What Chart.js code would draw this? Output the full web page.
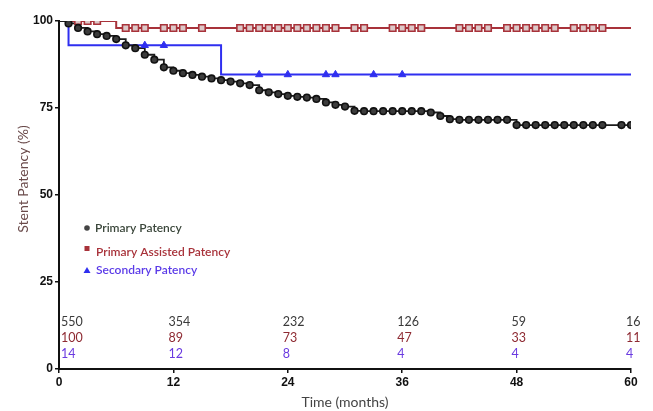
<!DOCTYPE html>
<html>
<head>
<meta charset="utf-8">
<script src="https://cdn.jsdelivr.net/npm/chart.js@4.4.1/dist/chart.umd.min.js"></script>
<style>
body{margin:0;background:#fff;}
</style>
</head>
<body>
<canvas id="km" width="653" height="411"></canvas>
<script>
// Kaplan-Meier curves (months, % patent)
var primaryStepT = [0,1,2,3,4,5,6,7,8,9,10,11,12,13,14,15,16,17,18,19,20,21,22,23,24,25,26,27,28,29,30,31,32,39,40,41,42,48,60];
var primaryStepS = [100,99.3,98.0,97.0,96.2,95.7,94.8,93.0,92.2,90.3,88.9,86.7,85.7,85.0,84.5,84.0,83.5,83.0,82.6,82.1,81.6,80.1,79.5,79.0,78.5,78.2,78.0,77.6,76.6,75.9,75.4,74.2,74.1,73.7,72.7,71.8,71.6,70.1,70.1];
var primaryCensorT = [1,2,3,4,5,6,7,8,9,10,11,12,13,14,15,16,17,18,19,20,21,22,23,24,25,26,27,28,29,30,31,32,33,34,35,36,37,38,39,40,41,42,43,44,45,46,47,48,49,50,51,52,53,54,55,56,57,59,60];

var assistedStepT = [0, 6, 60];
var assistedStepS = [100, 98.0, 98.0];
var assistedCensorT = [2,3,4,7,8,9,11,12,13,15,19,20,21,22,23,24,25,26,27,28,29,31,32,35,36,37,38,42,43,44,45,47,48,49,50,51,52,54,55,56,57];

var secondaryStepT = [0, 1, 17, 60];
var secondaryStepS = [100, 93.0, 84.6, 84.6];
var secondaryCensorT = [9, 11, 21, 24, 28, 29, 33, 36];

// number at risk
var riskMonths = [0, 12, 24, 36, 48, 60];
var riskPrimary = [550, 354, 232, 126, 59, 16];
var riskAssisted = [100, 89, 73, 47, 33, 11];
var riskSecondary = [14, 12, 8, 4, 4, 4];

var seriesNames = ["Primary Patency", "Primary Assisted Patency", "Secondary Patency"];
var xTicks = [0, 12, 24, 36, 48, 60];
var yTicks = [0, 25, 50, 75, 100];

var colPrimary = "#1c1c1c";
var colAssisted = "#a8323a";
var colSecondary = "#2f2ff0";

function steps(T, S){
    return T.map(function(t, i){ return {x:t, y:S[i]}; });
}
function survAt(T, S, t){
    var v = S[0];
    for (var i = 0; i < T.length; i++){
        if (T[i] <= t) v = S[i];
    }
    return v;
}
function marks(T, S, C){
    return C.map(function(t){ return {x:t, y:survAt(T, S, t)}; });
}

// legend + number-at-risk rows drawn inside the plot
var extras = {
    id: "extras",
    afterDraw: function(chart){
        var ctx = chart.ctx, a = chart.chartArea, xs = chart.scales.x;
        ctx.save();
        // legend
        var lx = a.left + 28;
        ctx.textBaseline = "middle";
        ctx.textAlign = "left";
        ctx.font = "600 12px Lato";
        ctx.fillStyle = "#444";
        ctx.beginPath(); ctx.arc(lx, 228, 2.8, 0, Math.PI*2); ctx.fill();
        ctx.fillStyle = "#3a463a";
        ctx.fillText(seriesNames[0], lx + 8, 228);
        ctx.fillStyle = colAssisted;
        ctx.fillRect(lx - 2.5, 246, 5, 5);
        ctx.fillText(seriesNames[1], lx + 9, 252);
        ctx.fillStyle = colSecondary;
        ctx.beginPath(); ctx.moveTo(lx - 3.5, 273); ctx.lineTo(lx + 3.5, 273); ctx.lineTo(lx, 267); ctx.closePath(); ctx.fill();
        ctx.fillStyle = "#5a3ae8";
        ctx.fillText(seriesNames[2], lx + 9, 270);

        // numbers at risk
        ctx.font = "12.5px Lato";
        var rows = [[riskPrimary, "#3a3a3a", 322], [riskAssisted, "#8e2a32", 338], [riskSecondary, "#6a3ae0", 354]];
        rows.forEach(function(r){
            ctx.fillStyle = r[1];
            r[0].forEach(function(n, i){
                var px = Math.max(a.left + 2, xs.getPixelForValue(riskMonths[i]) - 5);
                ctx.fillText(String(n), px, r[2]);
            });
        });

        // y axis title
        ctx.translate(23, 179);
        ctx.rotate(-Math.PI/2);
        ctx.textAlign = "center";
        ctx.font = "14px Lato";
        ctx.fillStyle = "#6a4a4a";
        ctx.fillText("Stent Patency (%)", 0, 0);
        ctx.restore();
    }
};

new Chart(document.getElementById("km"), {
    type: "line",
    plugins: [extras],
    data: {
        datasets: [
            {label: seriesNames[0] + " marks", type: "scatter", data: marks(primaryStepT, primaryStepS, primaryCensorT),
             pointStyle: "circle", pointRadius: 3.3, pointBackgroundColor: "#3c3c3c", pointBorderColor: "#111", pointBorderWidth: 1.6, order: 1},
            {label: seriesNames[1] + " marks", type: "scatter", data: marks(assistedStepT, assistedStepS, assistedCensorT),
             pointStyle: "rect", pointRadius: 4.6, pointBackgroundColor: "#dcc8c8", pointBorderColor: colAssisted, pointBorderWidth: 1.6, order: 2},
            {label: seriesNames[2] + " marks", type: "scatter", data: marks(secondaryStepT, secondaryStepS, secondaryCensorT),
             pointStyle: "triangle", pointRadius: 4.2, pointBackgroundColor: colSecondary, pointBorderColor: colSecondary, pointBorderWidth: 1, order: 3},
            {label: seriesNames[0], data: steps(primaryStepT, primaryStepS), stepped: "before",
             borderColor: colPrimary, borderWidth: 1.8, pointRadius: 0, fill: false, order: 4},
            {label: seriesNames[1], data: steps(assistedStepT, assistedStepS), stepped: "before",
             borderColor: colAssisted, borderWidth: 2, pointRadius: 0, fill: false, order: 5},
            {label: seriesNames[2], data: steps(secondaryStepT, secondaryStepS), stepped: "before",
             borderColor: colSecondary, borderWidth: 2, pointRadius: 0, fill: false, order: 6}
        ]
    },
    options: {
        responsive: false,
        animation: false,
        layout: {padding: {left: 0, right: 22, top: 21, bottom: 0}},
        plugins: {legend: {display: false}, tooltip: {enabled: false}},
        scales: {
            x: {
                type: "linear", min: 0, max: 60,
                afterBuildTicks: function(s){ s.ticks = xTicks.map(function(v){ return {value: v}; }); },
                afterFit: function(s){ s.height = 42; },
                grid: {drawOnChartArea: false, drawTicks: true, tickLength: 4, color: "#111", lineWidth: 1.5},
                border: {color: "#111", width: 2},
                ticks: {color: "#111", font: {family: "Liberation Sans", weight: "bold", size: 12}, padding: 2, maxRotation: 0},
                title: {display: true, text: "Time (months)", color: "#444", font: {family: "Lato", size: 14}, padding: {top: 0, bottom: 0}}
            },
            y: {
                min: 0, max: 100,
                afterBuildTicks: function(s){ s.ticks = yTicks.map(function(v){ return {value: v}; }); },
                afterFit: function(s){ s.width = 59; },
                grid: {drawOnChartArea: false, drawTicks: true, tickLength: 4, color: "#111", lineWidth: 1.5},
                border: {color: "#111", width: 2},
                ticks: {color: "#111", font: {family: "Liberation Sans", weight: "bold", size: 12}, padding: 2}
            }
        }
    }
});
</script>
</body>
</html>
